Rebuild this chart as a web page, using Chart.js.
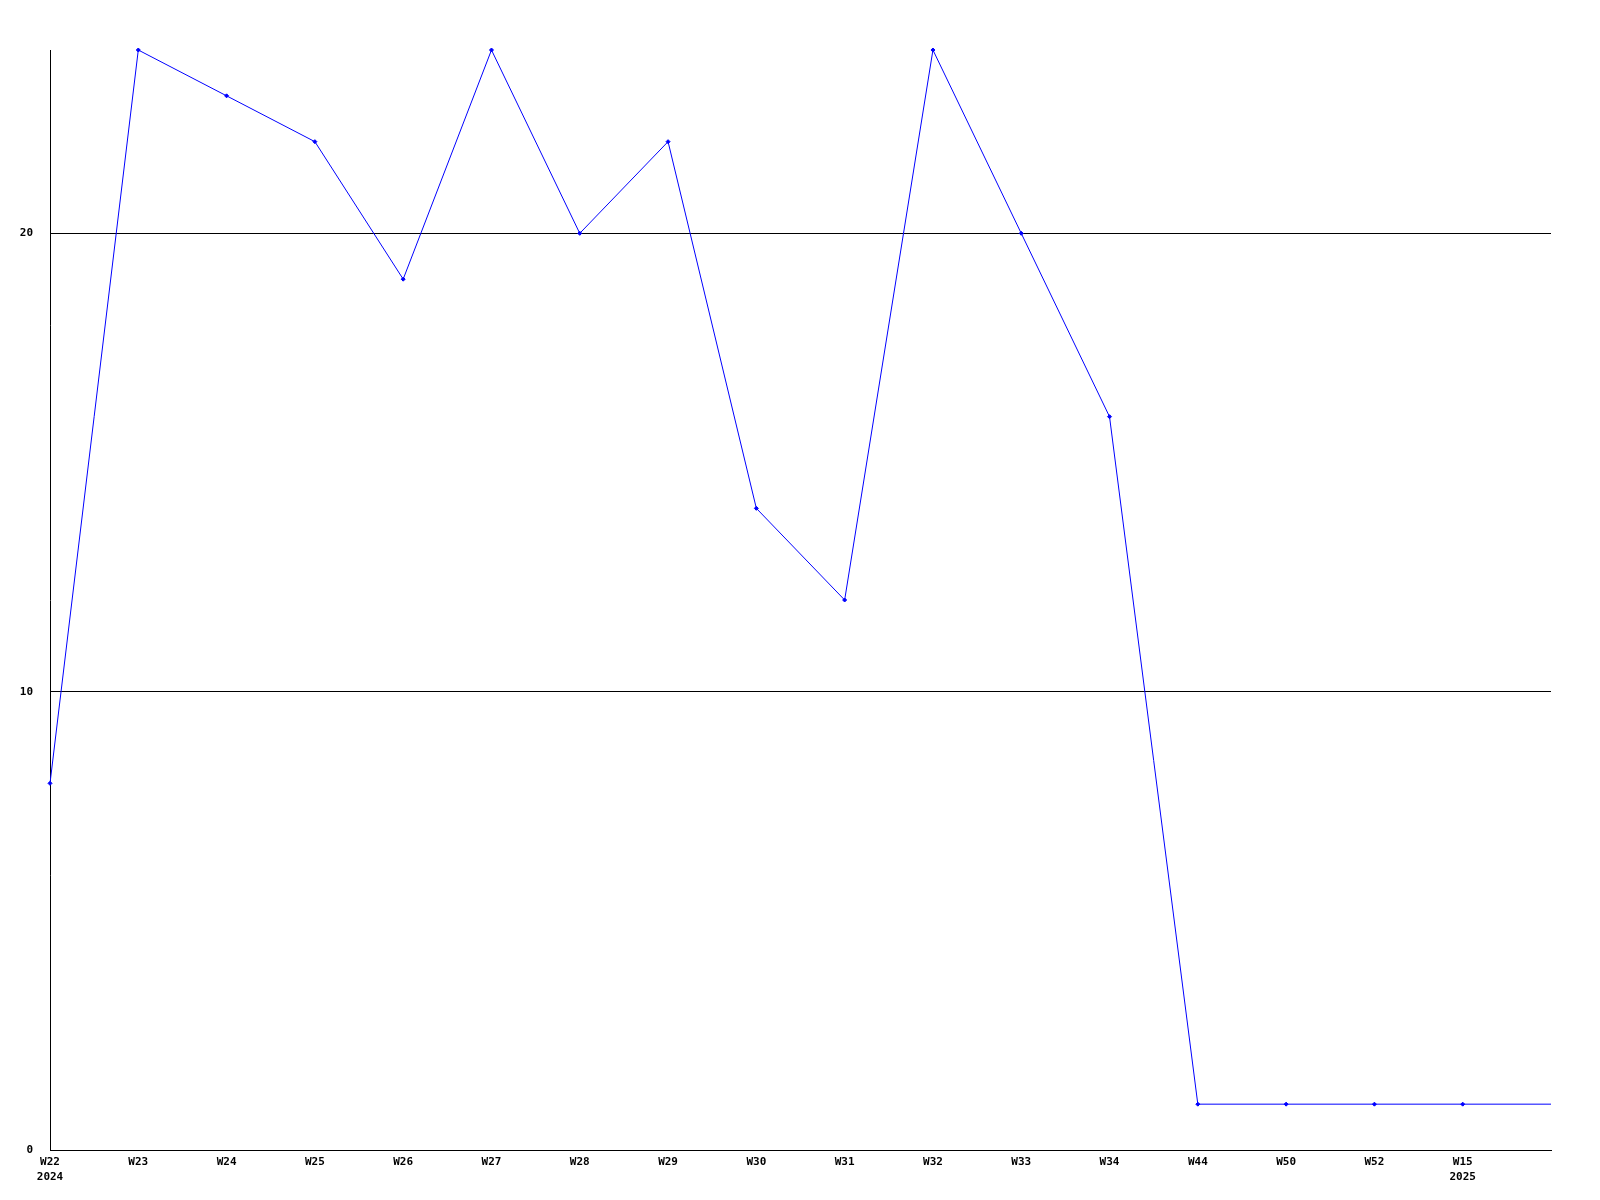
<!DOCTYPE html>
<html>
<head>
<meta charset="utf-8">
<script src="https://cdn.jsdelivr.net/npm/chart.js@4"></script>
<style>
  html, body { margin: 0; padding: 0; background: #fff; }
  #wrap { width: 1600px; height: 1200px; }
</style>
</head>
<body>
<div id="wrap"><canvas id="chart" width="1600" height="1200"></canvas></div>
<script>
// weeks shown on the x axis (year under the first and last)
const weeks = ['W22', 'W23', 'W24', 'W25', 'W26', 'W27', 'W28', 'W29', 'W30',
  'W31', 'W32', 'W33', 'W34', 'W44', 'W50', 'W52', 'W15', '']
const years = ['2024', '', '', '', '', '', '', '', '', '', '', '', '', '', '', '', '2025', '']
// last value is where the line meets the right edge
const counts = [8, 24, 23, 22, 19, 24, 20, 22, 14, 12, 24, 20, 16, 1, 1, 1, 1, 1]
const yTicks = [0, 10, 20]

const labels = weeks.map((w, i) => years[i] ? [w, years[i]] : w)

const tickFont = { family: 'DejaVu Sans Mono', size: 11, weight: 'bold', lineHeight: 1.4 }

new Chart(document.getElementById('chart'), {
  type: 'line',
  data: {
    labels: labels,
    datasets: [{
      data: counts,
      borderColor: '#0000ff',
      backgroundColor: '#0000ff',
      borderWidth: 1,
      tension: 0,
      clip: false,
      pointStyle: 'rectRot',
      pointRadius: counts.map((v, i) => i === counts.length - 1 ? 0 : 2),
      pointBorderWidth: 1
    }]
  },
  options: {
    responsive: false,
    animation: false,
    layout: { padding: { top: 50, right: 49, left: 0, bottom: 0 } },
    plugins: { legend: { display: false }, tooltip: { enabled: false } },
    scales: {
      x: {
        offset: false,
        grid: { display: false, drawTicks: false },
        border: { display: true, color: '#000', width: 1 },
        ticks: { color: '#000', font: tickFont, padding: 4, maxRotation: 0, autoSkip: false },
        afterFit: s => { s.height = 50 }
      },
      y: {
        min: 0,
        max: 24,
        afterBuildTicks: s => { s.ticks = yTicks.map(v => ({ value: v })) },
        grid: { color: '#000', drawTicks: false, lineWidth: 1 },
        border: { display: true, color: '#000', width: 1 },
        ticks: { color: '#000', font: { family: 'DejaVu Sans Mono', size: 11, weight: 'bold' }, padding: 17 },
        afterFit: s => { s.width = 50 }
      }
    }
  }
})
</script>
</body>
</html>
